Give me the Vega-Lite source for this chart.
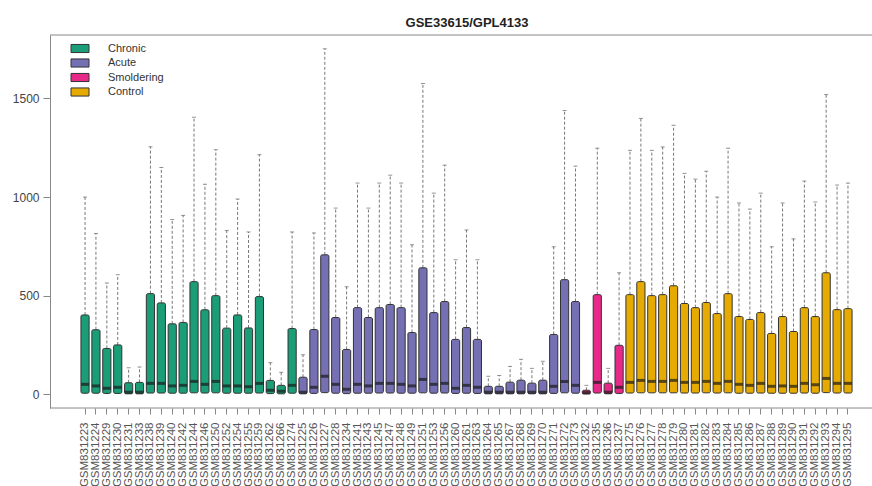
{
  "$schema": "https://vega.github.io/schema/vega-lite/v6.json",
  "autosize": {"type": "none"},
  "width": 822,
  "height": 373,
  "padding": {"left": 50, "top": 35, "right": 0, "bottom": 78},
  "background": "white",
  "config": {
    "view": {"stroke": null},
    "font": "Liberation Sans"
  },
  "title": {
    "text": "GSE33615/GPL4133",
    "fontSize": 13,
    "fontWeight": "bold",
    "font": "Liberation Sans",
    "color": "#222",
    "offset": 5,
    "dx": 6
  },
  "data": {
    "values": [
      {"sample": "GSM831223", "group": "Chronic", "lo": 0, "q1": 5, "med": 50, "q3": 402, "hi": 1000},
      {"sample": "GSM831224", "group": "Chronic", "lo": 0, "q1": 5, "med": 42, "q3": 327, "hi": 815},
      {"sample": "GSM831229", "group": "Chronic", "lo": 0, "q1": 4, "med": 30, "q3": 232, "hi": 564},
      {"sample": "GSM831230", "group": "Chronic", "lo": 0, "q1": 4, "med": 35, "q3": 250, "hi": 606},
      {"sample": "GSM831231", "group": "Chronic", "lo": 0, "q1": 2, "med": 10, "q3": 58, "hi": 134},
      {"sample": "GSM831233", "group": "Chronic", "lo": 0, "q1": 2, "med": 10, "q3": 60, "hi": 138},
      {"sample": "GSM831238", "group": "Chronic", "lo": 0, "q1": 6, "med": 55, "q3": 510, "hi": 1255},
      {"sample": "GSM831239", "group": "Chronic", "lo": 0, "q1": 6, "med": 55, "q3": 463, "hi": 1150},
      {"sample": "GSM831240", "group": "Chronic", "lo": 0, "q1": 5, "med": 42, "q3": 357, "hi": 886},
      {"sample": "GSM831242", "group": "Chronic", "lo": 0, "q1": 5, "med": 45, "q3": 364, "hi": 907},
      {"sample": "GSM831244", "group": "Chronic", "lo": 0, "q1": 7, "med": 65, "q3": 571, "hi": 1405},
      {"sample": "GSM831246", "group": "Chronic", "lo": 0, "q1": 6, "med": 50, "q3": 428, "hi": 1065},
      {"sample": "GSM831250", "group": "Chronic", "lo": 0, "q1": 7, "med": 65, "q3": 500, "hi": 1240},
      {"sample": "GSM831252", "group": "Chronic", "lo": 0, "q1": 5, "med": 42, "q3": 335, "hi": 830},
      {"sample": "GSM831254", "group": "Chronic", "lo": 0, "q1": 5, "med": 42, "q3": 402, "hi": 990},
      {"sample": "GSM831255", "group": "Chronic", "lo": 0, "q1": 5, "med": 38, "q3": 336, "hi": 823},
      {"sample": "GSM831259", "group": "Chronic", "lo": 0, "q1": 6, "med": 55, "q3": 495, "hi": 1215},
      {"sample": "GSM831262", "group": "Chronic", "lo": 0, "q1": 3, "med": 20, "q3": 70, "hi": 160},
      {"sample": "GSM831266", "group": "Chronic", "lo": 0, "q1": 2, "med": 15, "q3": 45, "hi": 111},
      {"sample": "GSM831274", "group": "Chronic", "lo": 0, "q1": 5, "med": 45, "q3": 333, "hi": 823},
      {"sample": "GSM831225", "group": "Acute", "lo": 0, "q1": 2, "med": 10, "q3": 86, "hi": 200},
      {"sample": "GSM831226", "group": "Acute", "lo": 0, "q1": 4, "med": 35, "q3": 328, "hi": 818},
      {"sample": "GSM831227", "group": "Acute", "lo": 0, "q1": 8, "med": 91, "q3": 707, "hi": 1752},
      {"sample": "GSM831228", "group": "Acute", "lo": 0, "q1": 5, "med": 50, "q3": 389, "hi": 944},
      {"sample": "GSM831234", "group": "Acute", "lo": 0, "q1": 3, "med": 25, "q3": 227, "hi": 545},
      {"sample": "GSM831241", "group": "Acute", "lo": 0, "q1": 5, "med": 50, "q3": 439, "hi": 1071},
      {"sample": "GSM831243", "group": "Acute", "lo": 0, "q1": 5, "med": 42, "q3": 389, "hi": 944},
      {"sample": "GSM831245", "group": "Acute", "lo": 0, "q1": 6, "med": 55, "q3": 439, "hi": 1071},
      {"sample": "GSM831247", "group": "Acute", "lo": 0, "q1": 6, "med": 55, "q3": 455, "hi": 1111},
      {"sample": "GSM831248", "group": "Acute", "lo": 0, "q1": 5, "med": 50, "q3": 439, "hi": 1071},
      {"sample": "GSM831249", "group": "Acute", "lo": 0, "q1": 5, "med": 42, "q3": 313, "hi": 758},
      {"sample": "GSM831251", "group": "Acute", "lo": 0, "q1": 7, "med": 75, "q3": 641, "hi": 1576},
      {"sample": "GSM831253", "group": "Acute", "lo": 0, "q1": 5, "med": 50, "q3": 414, "hi": 1020},
      {"sample": "GSM831256", "group": "Acute", "lo": 0, "q1": 6, "med": 55, "q3": 470, "hi": 1162},
      {"sample": "GSM831260", "group": "Acute", "lo": 0, "q1": 4, "med": 30, "q3": 278, "hi": 682},
      {"sample": "GSM831261", "group": "Acute", "lo": 0, "q1": 5, "med": 45, "q3": 338, "hi": 833},
      {"sample": "GSM831263", "group": "Acute", "lo": 0, "q1": 4, "med": 35, "q3": 278, "hi": 682},
      {"sample": "GSM831264", "group": "Acute", "lo": 0, "q1": 2, "med": 10, "q3": 40, "hi": 91},
      {"sample": "GSM831265", "group": "Acute", "lo": 0, "q1": 2, "med": 10, "q3": 40, "hi": 95},
      {"sample": "GSM831267", "group": "Acute", "lo": 0, "q1": 2, "med": 10, "q3": 61, "hi": 141},
      {"sample": "GSM831268", "group": "Acute", "lo": 0, "q1": 2, "med": 10, "q3": 71, "hi": 177},
      {"sample": "GSM831269", "group": "Acute", "lo": 0, "q1": 2, "med": 10, "q3": 56, "hi": 131},
      {"sample": "GSM831270", "group": "Acute", "lo": 0, "q1": 2, "med": 10, "q3": 71, "hi": 167},
      {"sample": "GSM831271", "group": "Acute", "lo": 0, "q1": 4, "med": 40, "q3": 303, "hi": 748},
      {"sample": "GSM831272", "group": "Acute", "lo": 0, "q1": 7, "med": 65, "q3": 581, "hi": 1439},
      {"sample": "GSM831273", "group": "Acute", "lo": 0, "q1": 5, "med": 45, "q3": 470, "hi": 1157},
      {"sample": "GSM831232", "group": "Smoldering", "lo": 0, "q1": 1, "med": 8, "q3": 20, "hi": 45},
      {"sample": "GSM831235", "group": "Smoldering", "lo": 0, "q1": 6, "med": 60, "q3": 505, "hi": 1248},
      {"sample": "GSM831236", "group": "Smoldering", "lo": 0, "q1": 2, "med": 10, "q3": 56, "hi": 131},
      {"sample": "GSM831237", "group": "Smoldering", "lo": 0, "q1": 4, "med": 35, "q3": 248, "hi": 616},
      {"sample": "GSM831275", "group": "Control", "lo": 0, "q1": 6, "med": 60, "q3": 505, "hi": 1237},
      {"sample": "GSM831276", "group": "Control", "lo": 0, "q1": 7, "med": 70, "q3": 571, "hi": 1399},
      {"sample": "GSM831277", "group": "Control", "lo": 0, "q1": 7, "med": 65, "q3": 500, "hi": 1237},
      {"sample": "GSM831278", "group": "Control", "lo": 0, "q1": 7, "med": 65, "q3": 505, "hi": 1254},
      {"sample": "GSM831279", "group": "Control", "lo": 0, "q1": 7, "med": 70, "q3": 550, "hi": 1364},
      {"sample": "GSM831280", "group": "Control", "lo": 0, "q1": 6, "med": 60, "q3": 460, "hi": 1120},
      {"sample": "GSM831281", "group": "Control", "lo": 0, "q1": 6, "med": 60, "q3": 439, "hi": 1091},
      {"sample": "GSM831282", "group": "Control", "lo": 0, "q1": 7, "med": 65, "q3": 465, "hi": 1131},
      {"sample": "GSM831283", "group": "Control", "lo": 0, "q1": 6, "med": 55, "q3": 409, "hi": 1000},
      {"sample": "GSM831284", "group": "Control", "lo": 0, "q1": 7, "med": 65, "q3": 510, "hi": 1248},
      {"sample": "GSM831285", "group": "Control", "lo": 0, "q1": 5, "med": 50, "q3": 394, "hi": 970},
      {"sample": "GSM831286", "group": "Control", "lo": 0, "q1": 5, "med": 45, "q3": 379, "hi": 939},
      {"sample": "GSM831287", "group": "Control", "lo": 0, "q1": 6, "med": 55, "q3": 414, "hi": 1020},
      {"sample": "GSM831288", "group": "Control", "lo": 0, "q1": 5, "med": 40, "q3": 308, "hi": 748},
      {"sample": "GSM831289", "group": "Control", "lo": 0, "q1": 5, "med": 42, "q3": 394, "hi": 970},
      {"sample": "GSM831290", "group": "Control", "lo": 0, "q1": 5, "med": 40, "q3": 318, "hi": 788},
      {"sample": "GSM831291", "group": "Control", "lo": 0, "q1": 6, "med": 55, "q3": 439, "hi": 1081},
      {"sample": "GSM831292", "group": "Control", "lo": 0, "q1": 5, "med": 48, "q3": 394, "hi": 975},
      {"sample": "GSM831293", "group": "Control", "lo": 0, "q1": 8, "med": 80, "q3": 616, "hi": 1520},
      {"sample": "GSM831294", "group": "Control", "lo": 0, "q1": 6, "med": 55, "q3": 429, "hi": 1061},
      {"sample": "GSM831295", "group": "Control", "lo": 0, "q1": 6, "med": 55, "q3": 434, "hi": 1071}
    ]
  },
  "encoding": {
    "x": {
      "field": "sample",
      "type": "nominal",
      "sort": null,
      "scale": {"paddingInner": 0.25, "paddingOuter": 0.5, "range": [25.5, 807.5]},
      "axis": {
        "title": null,
        "labelAngle": 270,
        "labelAlign": "right",
        "labelBaseline": "middle",
        "labelFontSize": 11.5,
        "labelFont": "Liberation Sans",
        "labelColor": "#555",
        "labelOverlap": false,
        "labelPadding": 8,
        "tickSize": 6,
        "tickColor": "#888",
        "domain": false,
        "grid": false
      }
    }
  },
  "layer": [
    {
      "data": {"values": [{"edge": 1822}, {"edge": -70}]},
      "mark": {"type": "rule", "color": "#888", "strokeWidth": 1},
      "encoding": {
        "x": null,
        "y": {"field": "edge", "type": "quantitative"}
      }
    },
    {
      "mark": {"type": "rule", "color": "#777", "strokeWidth": 1, "strokeDash": [3, 2]},
      "encoding": {
        "y": {
          "field": "q3",
          "type": "quantitative",
          "scale": {"domain": [-70, 1822], "nice": false, "zero": false},
          "axis": {
            "title": null,
            "values": [0, 500, 1000, 1500],
            "format": "d",
            "labelFontSize": 12,
            "labelFont": "Liberation Sans",
            "labelColor": "#444",
            "labelPadding": 4,
            "tickSize": 7,
            "tickColor": "#888",
            "domainColor": "#888",
            "grid": false
          }
        },
        "y2": {"field": "hi"}
      }
    },
    {
      "mark": {"type": "tick", "color": "#666", "thickness": 1, "size": 4},
      "encoding": {"y": {"field": "hi", "type": "quantitative"}}
    },
    {
      "mark": {"type": "bar", "stroke": "#333", "strokeWidth": 1, "cornerRadius": 1.5},
      "encoding": {
        "y": {"field": "q1", "type": "quantitative"},
        "y2": {"field": "q3"},
        "color": {
          "field": "group",
          "type": "nominal",
          "scale": {
            "domain": ["Chronic", "Acute", "Smoldering", "Control"],
            "range": ["#1B9E77", "#7570B3", "#E7298A", "#E6AB02"]
          },
          "legend": {
            "title": null,
            "orient": "none",
            "legendX": 24.5,
            "legendY": 8,
            "padding": 0,
            "symbolType": "M-2,-0.9H2V0.9H-2Z",
            "symbolSize": 81,
            "symbolStrokeColor": "#333",
            "symbolStrokeWidth": 1,
            "symbolOpacity": 1,
            "labelFontSize": 11,
            "labelFont": "Liberation Sans",
            "labelColor": "#333",
            "labelOffset": 22.5,
            "rowPadding": 1.5
          }
        }
      }
    },
    {
      "mark": {"type": "tick", "color": "#1a1a1a", "thickness": 3, "size": 8},
      "encoding": {"y": {"field": "med", "type": "quantitative"}}
    }
  ]
}
